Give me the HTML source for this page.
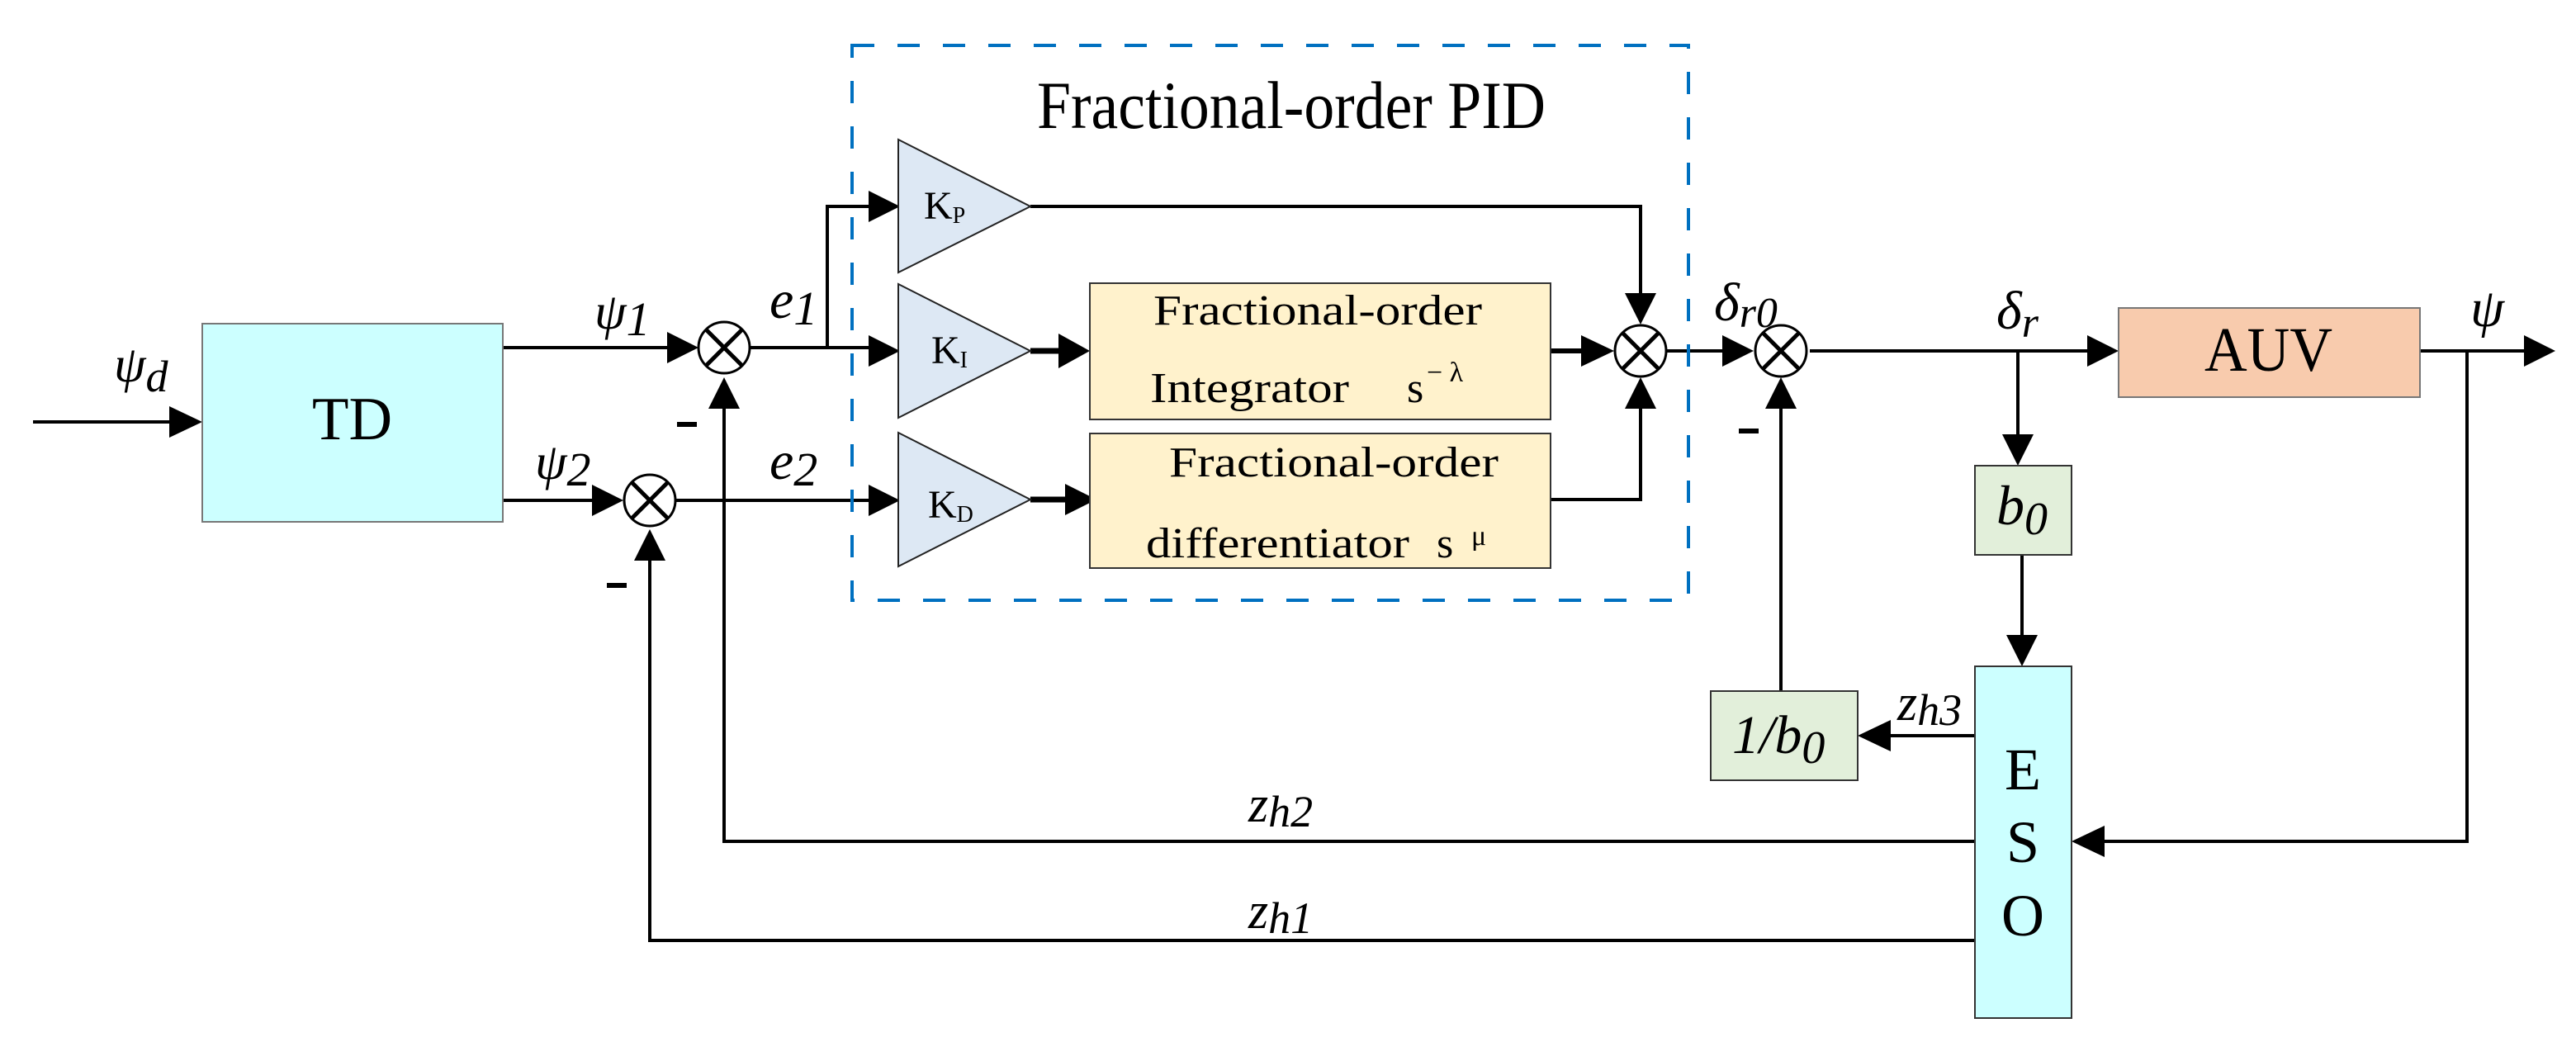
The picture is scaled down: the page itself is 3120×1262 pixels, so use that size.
<!DOCTYPE html>
<html><head><meta charset="utf-8"><style>
html,body{margin:0;padding:0;background:#fff;}
svg{display:block;}
text{font-family:"Liberation Serif","DejaVu Serif",serif;fill:#000;}
.i{font-style:italic;}
</style></head><body>
<svg width="3120" height="1262" viewBox="0 0 3120 1262" xmlns="http://www.w3.org/2000/svg" font-family="Liberation Serif, serif">
<g stroke="#000" stroke-width="4" fill="none">
<line x1="40" y1="511" x2="210" y2="511"/>
<line x1="609" y1="421" x2="812" y2="421"/>
<line x1="609" y1="606" x2="720" y2="606"/>
<line x1="908" y1="421" x2="1052" y2="421"/>
<polyline points="1002,421 1002,250 1052,250"/>
<line x1="818" y1="606" x2="1052" y2="606"/>
<polyline points="1248,250 1987,250 1987,356"/>
<line x1="1248" y1="425" x2="1285" y2="425" stroke-width="7"/>
<line x1="1248" y1="605" x2="1290" y2="605" stroke-width="7"/>
<line x1="1878" y1="425" x2="1917" y2="425" stroke-width="6"/>
<polyline points="1878,605 1987,605 1987,492"/>
<line x1="2019" y1="425" x2="2090" y2="425"/>
<line x1="2192" y1="425" x2="2528" y2="425"/>
<line x1="2931" y1="425" x2="3058" y2="425"/>
<polyline points="2988,425 2988,1019 2548,1019"/>
<line x1="2444" y1="425" x2="2444" y2="527"/>
<line x1="2449" y1="672" x2="2449" y2="770"/>
<line x1="2392" y1="891" x2="2288" y2="891"/>
<line x1="2157" y1="837" x2="2157" y2="492"/>
<polyline points="2392,1019 877,1019 877,492"/>
<polyline points="2392,1139 787,1139 787,677"/>
</g>
<g fill="#000">
<polygon points="245,511 205,492 205,530"/>
<polygon points="846,421 808,402 808,440"/>
<polygon points="755,606 717,587 717,625"/>
<polygon points="1090,250 1052,231 1052,269"/>
<polygon points="1090,425 1052,406 1052,444"/>
<polygon points="1090,606 1052,587 1052,625"/>
<polygon points="1320,425 1282,404 1282,446"/>
<polygon points="1328,605 1290,586 1290,624"/>
<polygon points="1955,425 1915,406 1915,444"/>
<polygon points="1987,393 1968,355 2006,355"/>
<polygon points="1987,457 1968,495 2006,495"/>
<polygon points="2124,425 2086,406 2086,444"/>
<polygon points="2157,457 2138,495 2176,495"/>
<polygon points="2566,425 2528,406 2528,444"/>
<polygon points="3095,425 3057,406 3057,444"/>
<polygon points="2444,564 2425,526 2463,526"/>
<polygon points="2449,807 2430,769 2468,769"/>
<polygon points="2509,1019 2549,1000 2549,1038"/>
<polygon points="2250,891 2290,872 2290,910"/>
<polygon points="877,457 858,495 896,495"/>
<polygon points="787,641 768,679 806,679"/>
</g>
<g stroke="#000" stroke-width="3" fill="#fff">
<circle cx="877" cy="421" r="31"/>
<circle cx="787" cy="606" r="31"/>
<circle cx="1987" cy="425" r="31"/>
<circle cx="2157" cy="425" r="31"/>
</g>
<g stroke="#000" stroke-width="5">
<path d="M855,399 L899,443 M899,399 L855,443"/>
<path d="M765,584 L809,628 M809,584 L765,628"/>
<path d="M1965,403 L2009,447 M2009,403 L1965,447"/>
<path d="M2135,403 L2179,447 M2179,403 L2135,447"/>
</g>
<g fill="#000">
<rect x="820" y="511" width="24" height="6"/>
<rect x="735" y="706" width="24" height="6"/>
<rect x="2106" y="519" width="24" height="6"/>
</g>
<rect x="1032" y="55" width="1013" height="672" fill="none" stroke="#0070c0" stroke-width="4" stroke-dasharray="27,28"/>
<rect x="245" y="392" width="364" height="240" fill="#ccffff" stroke="#777" stroke-width="2"/>
<g fill="#dde8f4" stroke="#222" stroke-width="2">
<polygon points="1088,169 1248,250 1088,330"/>
<polygon points="1088,344 1248,425 1088,506"/>
<polygon points="1088,524 1248,605 1088,686"/>
</g>
<rect x="1320" y="343" width="558" height="165" fill="#fff2cc" stroke="#333" stroke-width="2"/>
<rect x="1320" y="525" width="558" height="163" fill="#fff2cc" stroke="#333" stroke-width="2"/>
<rect x="2566" y="373" width="365" height="108" fill="#f8cbad" stroke="#777" stroke-width="2"/>
<rect x="2392" y="564" width="117" height="108" fill="#e2efda" stroke="#333" stroke-width="2"/>
<rect x="2072" y="837" width="178" height="108" fill="#e2efda" stroke="#333" stroke-width="2"/>
<rect x="2392" y="807" width="117" height="426" fill="#ccffff" stroke="#333" stroke-width="2"/>

<text transform="translate(1256,155) scale(1,1.2)" font-size="68" textLength="616" lengthAdjust="spacingAndGlyphs">Fractional-order PID</text>
<text x="378" y="532" font-size="74" textLength="97" lengthAdjust="spacingAndGlyphs">TD</text>
<text x="2670" y="449" font-size="76" textLength="155" lengthAdjust="spacingAndGlyphs">AUV</text>
<g font-size="72" text-anchor="middle">
<text x="2450" y="956">E</text>
<text x="2450" y="1044">S</text>
<text x="2450" y="1133">O</text>
</g>
<g font-size="52">
<text x="1397" y="393" textLength="398" lengthAdjust="spacingAndGlyphs">Fractional-order</text>
<text x="1393" y="487" textLength="241" lengthAdjust="spacingAndGlyphs">Integrator</text>
<text x="1704" y="487">s</text>
<text x="1728" y="462" font-size="34">− λ</text>
<text x="1416" y="577" textLength="399" lengthAdjust="spacingAndGlyphs">Fractional-order</text>
<text x="1388" y="675" textLength="319" lengthAdjust="spacingAndGlyphs">differentiator</text>
<text x="1740" y="675">s</text>
<text x="1782" y="660" font-size="34">μ</text>
</g>
<g font-size="48">
<text x="1119" y="265">K<tspan font-size="28" dy="5">P</tspan></text>
<text x="1128" y="440">K<tspan font-size="28" dy="5">I</tspan></text>
<text x="1124" y="627">K<tspan font-size="28" dy="5">D</tspan></text>
</g>
<g font-size="62">
<text class="i" x="138" y="462">ψ<tspan font-size="54" dy="12">d</tspan></text>
<text class="i" x="720" y="398">ψ<tspan font-size="58" dy="8">1</tspan></text>
<text class="i" x="648" y="580">ψ<tspan font-size="58" dy="8">2</tspan></text>
<text class="i" x="932" y="385" font-size="66">e<tspan font-size="58" dy="8">1</tspan></text>
<text class="i" x="932" y="580" font-size="66">e<tspan font-size="58" dy="8">2</tspan></text>
<text class="i" x="2076" y="388" font-size="66">δ<tspan font-size="52" dy="8">r0</tspan></text>
<text class="i" x="2418" y="398" font-size="66">δ<tspan font-size="52" dy="10">r</tspan></text>
<text class="i" x="2992" y="395" font-size="66">ψ</text>
<text class="i" x="2418" y="635" font-size="68">b<tspan font-size="56" dy="12">0</tspan></text>
<text class="i" x="2098" y="912" font-size="66">1/b<tspan font-size="56" dy="12">0</tspan></text>
<text class="i" x="2298" y="872">z<tspan font-size="54" dy="6">h3</tspan></text>
<text class="i" x="1512" y="995">z<tspan font-size="54" dy="6">h2</tspan></text>
<text class="i" x="1512" y="1124">z<tspan font-size="54" dy="6">h1</tspan></text>
</g>
</svg>
</body></html>
